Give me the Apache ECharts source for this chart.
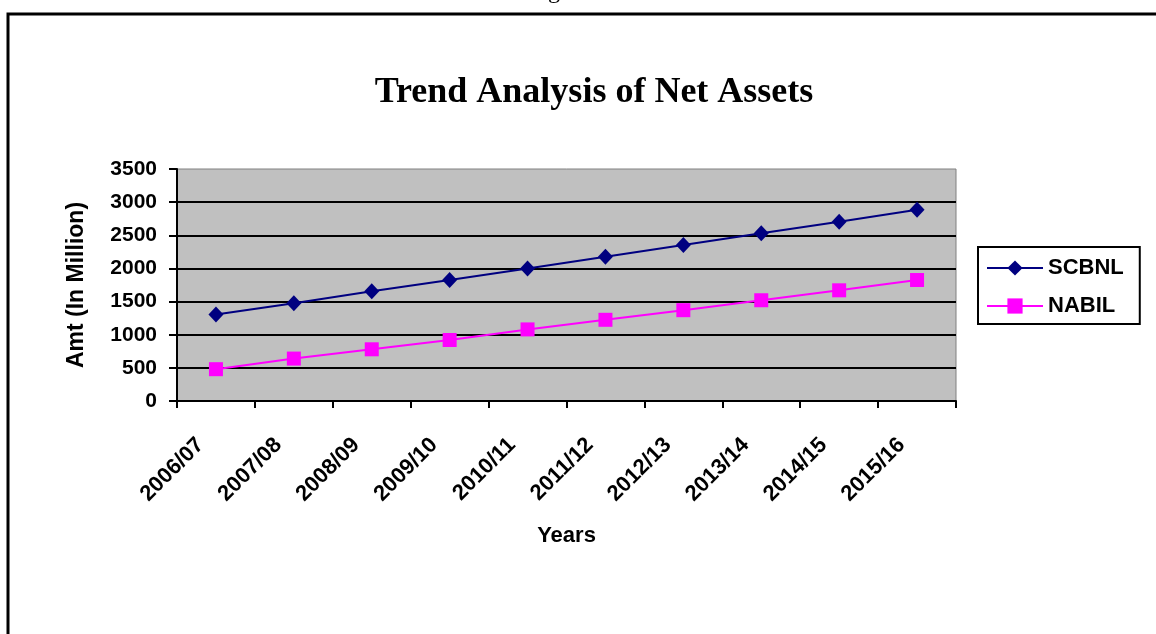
<!DOCTYPE html>
<html>
<head>
<meta charset="utf-8">
<title>Trend Analysis of Net Assets</title>
<script src="https://cdn.jsdelivr.net/npm/echarts@6/dist/echarts.min.js"></script>
<style>
  html, body { margin: 0; padding: 0; background: #fff; }
  #main { width: 1156px; height: 634px; }
</style>
</head>
<body>
<div id="main"></div>
<script>
// data
var years = ['2006/07', '2007/08', '2008/09', '2009/10', '2010/11',
             '2011/12', '2012/13', '2013/14', '2014/15', '2015/16'];
var scbnl = [1305, 1475, 1655, 1825, 2000, 2175, 2355, 2530, 2705, 2885];
var nabil = [480, 640, 780, 920, 1080, 1225, 1370, 1520, 1670, 1825];
var yTicks = [0, 500, 1000, 1500, 2000, 2500, 3000, 3500];

var chart = echarts.init(document.getElementById('main'));
var sans = 'Liberation Sans, Arial, sans-serif';

var option = {
  backgroundColor: '#fff',
  animation: false,
  title: {
    text: 'Trend Analysis of Net Assets',
    left: 589,
    top: 70,
    textAlign: 'center',
    textStyle: { fontFamily: 'Liberation Serif, Times New Roman, serif', fontSize: 36, fontWeight: 'bold', color: '#000' }
  },
  legend: {
    left: 978,
    top: 247,
    orient: 'vertical',
    data: ['SCBNL', 'NABIL'],
    backgroundColor: '#fff',
    borderColor: '#000',
    borderWidth: 2,
    borderRadius: 0,
    padding: [10, 16, 7, 8],
    itemGap: 16,
    itemWidth: 56,
    itemHeight: 19,
    textStyle: { fontFamily: sans, fontSize: 22, fontWeight: 'bold', color: '#000' }
  },
  grid: {
    left: 177,
    right: 200,
    top: 169,
    bottom: 233,
    show: true,
    backgroundColor: '#C0C0C0',
    borderColor: '#808080',
    borderWidth: 1
  },
  xAxis: {
    type: 'category',
    data: years,
    boundaryGap: true,
    name: 'Years',
    nameLocation: 'middle',
    nameGap: 124,
    nameTextStyle: { fontFamily: sans, fontSize: 22, fontWeight: 'bold', color: '#000' },
    axisLine: { lineStyle: { color: '#000', width: 2 } },
    axisTick: { show: true, length: 7, inside: false, lineStyle: { color: '#000', width: 2 } },
    axisLabel: {
      rotate: 45,
      margin: 25,
      padding: [0, 22, 0, 0],
      interval: 0,
      fontFamily: sans,
      fontSize: 22,
      fontWeight: 'bold',
      color: '#000'
    },
    splitLine: { show: false }
  },
  yAxis: {
    type: 'value',
    min: yTicks[0],
    max: yTicks[yTicks.length - 1],
    interval: 500,
    name: 'Amt (In Million)',
    nameLocation: 'middle',
    nameGap: 89,
    nameTextStyle: { fontFamily: sans, fontSize: 23, fontWeight: 'bold', color: '#000' },
    axisLine: { show: true, lineStyle: { color: '#000', width: 2 } },
    axisTick: { show: true, length: 8, lineStyle: { color: '#000', width: 2 } },
    axisLabel: {
      margin: 20,
      formatter: function (v) { return String(v); },
      fontFamily: sans, fontSize: 21, fontWeight: 'bold', color: '#000'
    },
    splitLine: { show: true, showMinLine: false, showMaxLine: false, lineStyle: { color: '#000', width: 2 } }
  },
  series: [
    {
      name: 'SCBNL',
      type: 'line',
      data: scbnl,
      symbol: 'diamond',
      symbolSize: [15, 16],
      color: '#000080',
      lineStyle: { color: '#000080', width: 2 },
      itemStyle: { color: '#000080' }
    },
    {
      name: 'NABIL',
      type: 'line',
      data: nabil,
      symbol: 'rect',
      symbolSize: 14,
      color: '#FF00FF',
      lineStyle: { color: '#FF00FF', width: 2 },
      itemStyle: { color: '#FF00FF' }
    }
  ],
  graphic: [
    {
      type: 'rect',
      shape: { x: 8, y: 14, width: 1200, height: 700 },
      style: { fill: 'none', stroke: '#000', lineWidth: 3 },
      silent: true
    },
    {
      type: 'text',
      left: 548,
      top: -20,
      style: { text: 'g', font: '24px Liberation Serif', fill: '#000' },
      silent: true
    }
  ]
};

chart.setOption(option);
</script>
</body>
</html>
